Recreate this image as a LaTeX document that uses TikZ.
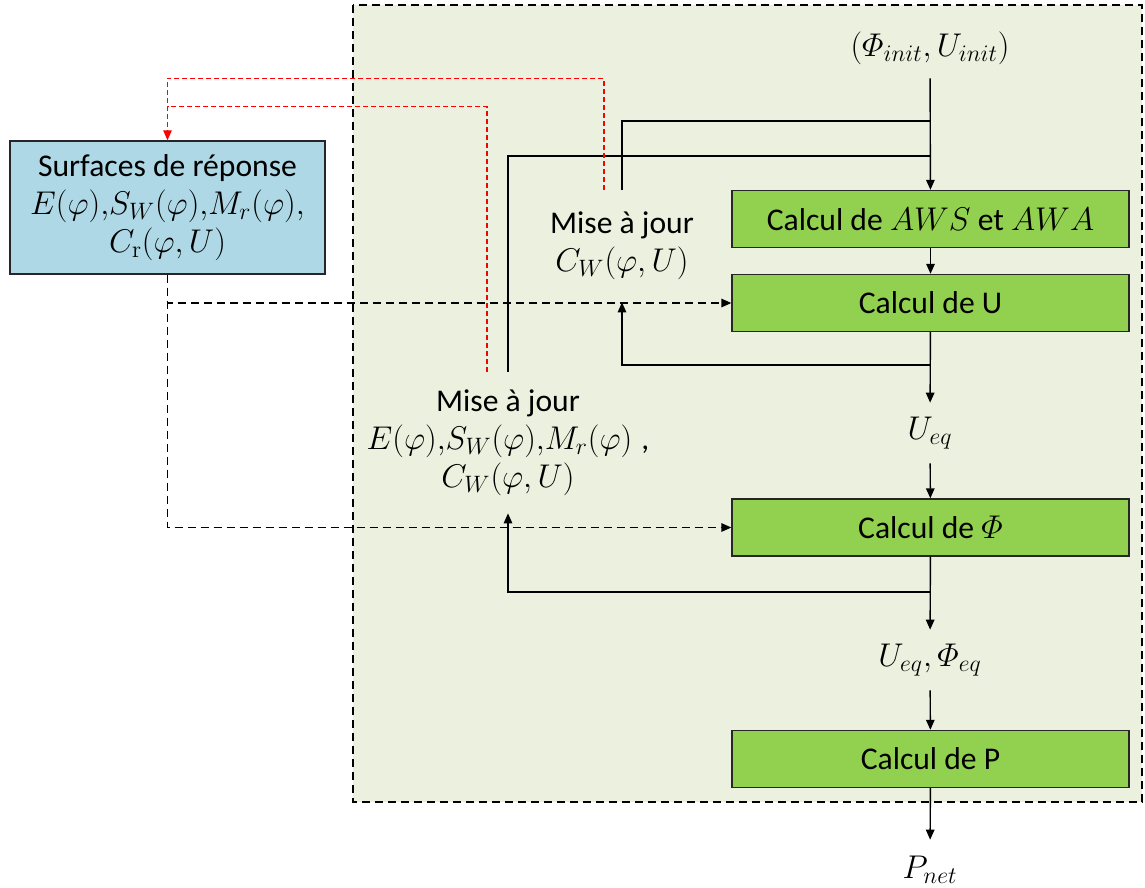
\RequirePackage{fix-cm}
\documentclass[tikz,border=0pt]{standalone}
\usepackage{amsmath}
\usepackage[no-math]{fontspec}
\setmainfont{Carlito}
\DeclareMathSizes{18}{18.7}{13.5}{10.5}
\usetikzlibrary{arrows.meta, positioning, calc}
\definecolor{framegreen}{RGB}{235,241,222}
\definecolor{calcgreen}{RGB}{146,208,80}
\definecolor{surfblue}{RGB}{174,216,230}

\begin{document}
\begin{tikzpicture}[x=0.02cm, y=-0.02cm,
  calcbox/.style={rectangle, draw=black!85, fill=calcgreen, line width=0.8pt,
                  minimum width=7.94cm, minimum height=1.14cm, inner sep=0pt},
  surfbox/.style={rectangle, draw=black!85, fill=surfblue, line width=0.8pt,
                  minimum width=6.3cm, minimum height=2.66cm, align=center, inner sep=0pt},
  lbl/.style={inner sep=0pt, minimum height=1.2cm},
  maj/.style={inner sep=0pt, align=center},
  arr/.style={-{Triangle[length=0.2cm, width=0.17cm]}, line width=0.8pt},
  dasharr/.style={arr, dash pattern=on 0.16cm off 0.1cm},
  redarr/.style={-{Triangle[length=0.2cm, width=0.17cm]}, red, line width=0.6pt,
                 dash pattern=on 0.1cm off 0.06cm},
  reddash/.style={red, line width=0.6pt, dash pattern=on 0.1cm off 0.06cm},
  font=\fontsize{18}{21.5}\selectfont
]
\useasboundingbox (0,0) rectangle (1145,887);

% cadre
\draw[fill=framegreen, line width=0.8pt, dash pattern=on 0.16cm off 0.1cm]
  (353,5) rectangle (1142,802);

% surfaces de reponse
\node[surfbox] (surf) at (167.5,207.5)
  {Surfaces de réponse\\$E(\varphi){,}S_W(\varphi){,}M_r(\varphi){,}$\\$C_{\mathrm{r}}(\varphi,U)$};

% chaine de calcul
\node[lbl]     (init) at (930,48)    {$(\varPhi_{init},U_{init})$};
\node[calcbox] (aws)  at (930.5,219) {Calcul de $AWS$ et $AWA$};
\node[calcbox] (u)    at (930.5,303) {Calcul de U};
\node[lbl]     (ueq)  at (930,433)   {$U_{eq}$};
\node[calcbox] (phi)  at (930.5,527.5) {Calcul de $\varPhi$};
\node[lbl]     (eqs)  at (930,660)   {$U_{eq},\varPhi_{eq}$};
\node[calcbox] (p)    at (930.5,759) {Calcul de P};
\node[lbl]     (pnet) at (930,870)   {$P_{net}$};

% mises a jour
\node[maj, minimum height=2.24cm] (mise1) at (622,246)
  {Mise à jour\\$C_W(\varphi,U)$};
\node[maj, minimum height=2.82cm] (mise2) at (508,442.5)
  {Mise à jour\\$E(\varphi){,}S_W(\varphi){,}M_r(\varphi)\;$,\\$C_W(\varphi,U)$};

\coordinate (j1) at (930,121);
\coordinate (j2) at (930,156);
\coordinate (j3) at (930,365);
\coordinate (j4) at (930,592);

\draw[arr] (init) -- (aws);
\draw[line width=0.8pt] (mise1.north) |- (j1);
\draw[line width=0.8pt] (mise2.north) |- (j2);
\draw[arr] (aws) -- (u);
\draw[arr] (u) -- (ueq);
\draw[arr] (j3) -| (mise1.south);
\draw[arr] (ueq) -- (phi);
\draw[arr] (phi) -- (eqs);
\draw[arr] (j4) -| (mise2.south);
\draw[arr] (eqs) -- (p);
\draw[arr] (p) -- (pnet);

% surfaces -> calculs
\draw[dasharr] (surf.south) |- (u.west);
\draw[dasharr] (surf.south) |- (phi.west);

% mises a jour -> surfaces
\draw[redarr] ($(mise1.north)+(-18,0)$) |- ($(surf.north)+(0,-62)$) -- (surf.north);
\draw[reddash] ($(mise2.north)+(-21,0)$) |- ($(surf.north)+(0,-34)$);
\end{tikzpicture}
\end{document}
